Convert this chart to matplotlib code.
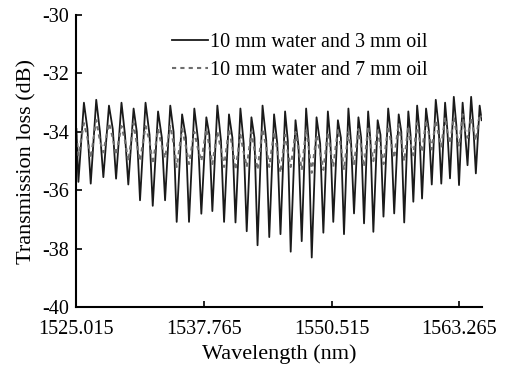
import matplotlib
matplotlib.use("Agg")
import matplotlib.pyplot as plt

# ---- data ----
trough_wl = [1525.25, 1526.48, 1527.74, 1529.01, 1530.23, 1531.40, 1532.67, 1533.90, 1535.06, 1536.29,
             1537.52, 1538.62, 1539.79, 1540.93, 1542.05, 1543.13, 1544.30, 1545.42, 1546.44, 1547.54,
             1548.54, 1549.70, 1550.69, 1551.76, 1552.76, 1553.76, 1554.69, 1555.70, 1556.77, 1557.77,
             1558.68, 1559.55, 1560.52, 1561.47, 1562.34, 1563.24, 1564.09, 1564.92]
peak_wl = [1525.80, 1527.03, 1528.30, 1529.55, 1530.76, 1531.95, 1533.20, 1534.42, 1535.60, 1536.82,
           1538.02, 1539.12, 1540.28, 1541.42, 1542.52, 1543.63, 1544.78, 1545.88, 1546.92, 1547.98,
           1549.02, 1550.15, 1551.15, 1552.20, 1553.20, 1554.17, 1555.12, 1556.17, 1557.22, 1558.18,
           1559.06, 1559.95, 1560.92, 1561.85, 1562.72, 1563.60, 1564.45, 1565.30]
shoulder_wl = [1526.15, 1527.40, 1528.68, 1529.90, 1531.08, 1532.35, 1533.58, 1534.75, 1535.98, 1537.20,
               1538.32, 1539.48, 1540.62, 1541.75, 1542.82, 1544.00, 1545.10, 1546.15, 1547.22, 1548.23,
               1549.38, 1550.40, 1551.45, 1552.47, 1553.47, 1554.40, 1555.40, 1556.48, 1557.48, 1558.40,
               1559.28, 1560.25, 1561.20, 1562.07, 1562.98, 1563.82, 1564.65]
start_wl = [1525.05]
end_wl = [1565.50]

# 10 mm water and 3 mm oil (black)
black_start = [-33.9]
black_trough = [-35.71, -35.77, -35.55, -35.60, -35.80, -36.34, -36.53, -36.34, -37.08, -37.08,
                -36.80, -36.71, -37.08, -37.10, -37.40, -37.88, -37.60, -37.50, -38.10, -37.74,
                -38.30, -37.45, -37.08, -37.50, -36.79, -37.13, -37.42, -36.90, -36.79, -37.10,
                -36.39, -36.28, -35.80, -35.77, -35.59, -35.82, -35.14, -35.42]
black_peak = [-33.0, -32.9, -33.1, -33.0, -33.2, -33.0, -33.3, -33.1, -33.4, -33.2,
              -33.5, -33.1, -33.4, -33.2, -33.5, -33.1, -33.4, -33.3, -33.6, -33.2,
              -33.5, -33.3, -33.6, -33.2, -33.5, -33.3, -33.6, -33.2, -33.4, -33.3,
              -33.1, -33.2, -32.9, -33.0, -32.8, -33.0, -32.8, -33.1]
black_shoulder = [-33.9, -34.0, -33.9, -34.1, -34.0, -34.1, -34.2, -34.0, -34.2, -34.3,
                  -34.1, -34.3, -34.2, -34.4, -34.2, -34.3, -34.4, -34.3, -34.5, -34.3,
                  -34.4, -34.3, -34.2, -34.4, -34.2, -34.3, -34.1, -34.2, -34.0, -34.1,
                  -33.9, -34.0, -33.8, -33.9, -33.8, -33.9, -33.7]
black_end = [-33.6]

# 10 mm water and 7 mm oil (gray dashed)
gray_start = [-34.1]
gray_trough = [-34.8, -34.9, -34.7, -34.8, -35.0, -35.0, -35.1, -34.9, -35.2, -35.1,
               -35.0, -35.1, -35.2, -35.3, -35.2, -35.3, -35.2, -35.4, -35.2, -35.3,
               -35.4, -35.3, -35.2, -35.3, -35.1, -35.2, -35.0, -35.1, -34.9, -35.0,
               -34.8, -34.7, -34.6, -34.5, -34.4, -34.5, -34.2, -34.3]
gray_peak = [-33.7, -33.6, -33.7, -33.8, -33.7, -33.8, -33.9, -33.8, -33.9, -34.0,
             -33.9, -34.0, -33.9, -34.1, -34.0, -33.9, -34.0, -34.1, -34.0, -33.9,
             -34.1, -34.0, -33.9, -34.0, -33.9, -33.8, -33.9, -33.8, -33.7, -33.8,
             -33.7, -33.6, -33.6, -33.5, -33.5, -33.4, -33.5, -33.4]
gray_shoulder = [-34.2, -34.3, -34.2, -34.3, -34.4, -34.3, -34.5, -34.4, -34.5, -34.6,
                 -34.5, -34.6, -34.5, -34.7, -34.6, -34.5, -34.6, -34.7, -34.6, -34.5,
                 -34.7, -34.6, -34.5, -34.6, -34.5, -34.4, -34.5, -34.4, -34.3, -34.4,
                 -34.2, -34.1, -34.1, -34.0, -34.0, -33.9, -33.9]
gray_end = [-33.5]

series_labels = ["10 mm water and 3 mm oil", "10 mm water and 7 mm oil"]
xticks = [1525.015, 1537.765, 1550.515, 1563.265]
xtick_labels = ["1525.015", "1537.765", "1550.515", "1563.265"]
yticks = [-40, -38, -36, -34, -32, -30]


def build(start, trough, peak, shoulder, end):
    pts = [(start_wl[0], start[0])]
    for i in range(len(trough_wl)):
        pts.append((trough_wl[i], trough[i]))
        pts.append((peak_wl[i], peak[i]))
        if i < len(shoulder_wl):
            pts.append((shoulder_wl[i], shoulder[i]))
    pts.append((end_wl[0], end[0]))
    pts.sort()
    return [p[0] for p in pts], [p[1] for p in pts]


plt.rcParams['font.family'] = ['Liberation Serif', 'DejaVu Serif']
plt.rcParams['axes.unicode_minus'] = False

fig = plt.figure(figsize=(5.07, 3.67), dpi=100)
ax = fig.add_axes([0.150, 0.163, 0.801, 0.796])

bx, by = build(black_start, black_trough, black_peak, black_shoulder, black_end)
gx, gy = build(gray_start, gray_trough, gray_peak, gray_shoulder, gray_end)

ax.plot(bx, by, color='#1a1a1a', lw=1.3, label=series_labels[0])
ax.plot(gx, gy, color='#6e6e6e', lw=1.5, ls=(0, (2.0, 2.0)), label=series_labels[1])

ax.set_xlim(1525.015, 1565.55)
ax.set_ylim(-40, -30)
ax.set_xticks(xticks)
ax.set_xticklabels(xtick_labels)
ax.set_yticks(yticks)
ax.tick_params(direction='in', length=4, width=1.2, labelsize=14.5)
ax.tick_params(axis='x', pad=9)
ax.tick_params(axis='y', pad=5)
for s in ['top', 'right']:
    ax.spines[s].set_visible(False)
for s in ['left', 'bottom']:
    ax.spines[s].set_linewidth(1.5)

ax.set_xlabel("Wavelength (nm)", fontsize=16, labelpad=4)
ax.set_ylabel("Transmission loss (dB)", fontsize=16, labelpad=4)

leg = ax.legend(loc='upper left', bbox_to_anchor=(0.236, 0.94), frameon=False, fontsize=14.5,
                handlelength=1.8, handletextpad=0.1, labelspacing=0.45, borderaxespad=0,
                borderpad=0)
leg.legend_handles[0].set_linewidth(1.3)

fig.savefig("out.png", dpi=100)
